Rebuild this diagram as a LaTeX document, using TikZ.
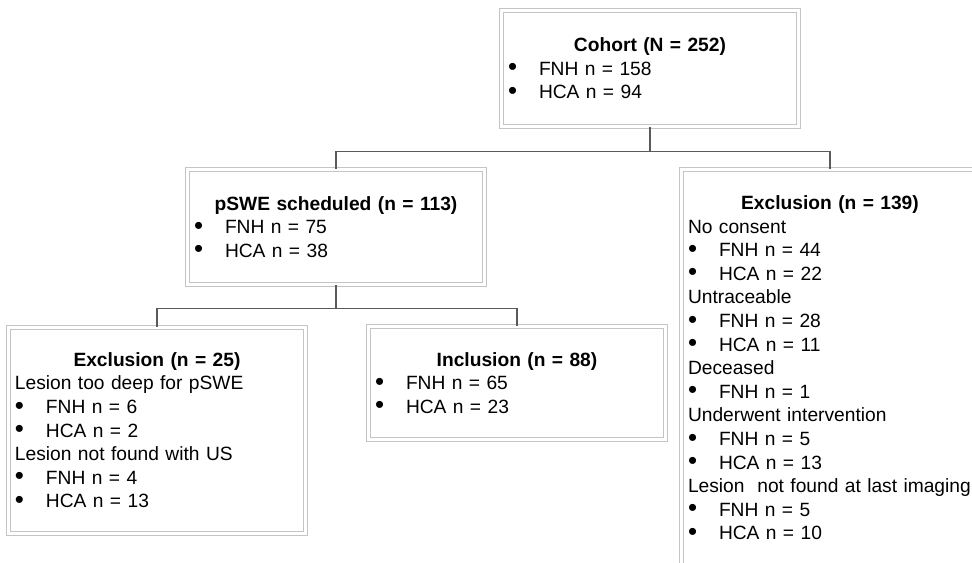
\documentclass[tikz,border=0pt]{standalone}
\usepackage{fontspec}
\setmainfont{Liberation Sans}
\usetikzlibrary{positioning}
\definecolor{box-line}{HTML}{C4C4C4}
\definecolor{link-line}{HTML}{5A5A5A}
\newcommand{\bul}[1]{\makebox[23.25pt][l]{\raisebox{-0.4pt}{\scalebox{1.35}{\textbullet}}}#1}
\newcommand{\ttl}[1]{\makebox[\hsize]{\textbf{#1}}}

\begin{document}
\begin{tikzpicture}[x=0.75pt, y=-0.75pt,
      every node/.style={font=\fontsize{14.4pt}{17.7pt}\selectfont},
      flowbox/.style={draw=box-line, double=white, double distance=1.6pt,
          line width=0.8pt, text width=213pt, inner xsep=4.9pt,
          inner ysep=2pt, align=left},
      link/.style={draw=link-line, line width=0.8pt}]
    \useasboundingbox (0,0) rectangle (972,562);
    \clip (0,0) rectangle (972,562);
    \node[flowbox, minimum height=87pt] (cohort) at (650,68.5)
        {\ttl{Cohort (N = 252)}\\ \bul{FNH n = 158}\\ \bul{HCA n = 94}};
    \node[flowbox, minimum height=86.25pt] (pswe) at (336,227)
        {\ttl{pSWE scheduled (n = 113)}\\ \bul{FNH n = 75}\\ \bul{HCA n = 38}};
    \node[flowbox, minimum height=297.75pt] (excl139) at (830,368)
        {\ttl{Exclusion (n = 139)}\\ No consent\\ \bul{FNH n = 44}\\ \bul{HCA n = 22}\\
         Untraceable\\ \bul{FNH n = 28}\\ \bul{HCA n = 11}\\
         Deceased\\ \bul{FNH n = 1}\\
         Underwent intervention\\ \bul{FNH n = 5}\\ \bul{HCA n = 13}\\
         Lesion~~not found at last imaging\\ \bul{FNH n = 5}\\ \bul{HCA n = 10}};
    \node[flowbox, minimum height=154.5pt] (excl25) at (157,430.5)
        {\ttl{Exclusion (n = 25)}\\ Lesion too deep for pSWE\\ \bul{FNH n = 6}\\ \bul{HCA n = 2}\\
         Lesion not found with US\\ \bul{FNH n = 4}\\ \bul{HCA n = 13}};
    \node[flowbox, minimum height=84.75pt] (incl) at (517,383)
        {\ttl{Inclusion (n = 88)}\\ \bul{FNH n = 65}\\ \bul{HCA n = 23}};
    % tree connectors
    \draw[link] (cohort.south) -- ++(0,24) -| (pswe.north);
    \draw[link] (cohort.south) -- ++(0,24) -| (excl139.north);
    \draw[link] (pswe.south) -- ++(0,23) -| (excl25.north);
    \draw[link] (pswe.south) -- ++(0,23) -| (incl.north);
  \end{tikzpicture}
\end{document}
